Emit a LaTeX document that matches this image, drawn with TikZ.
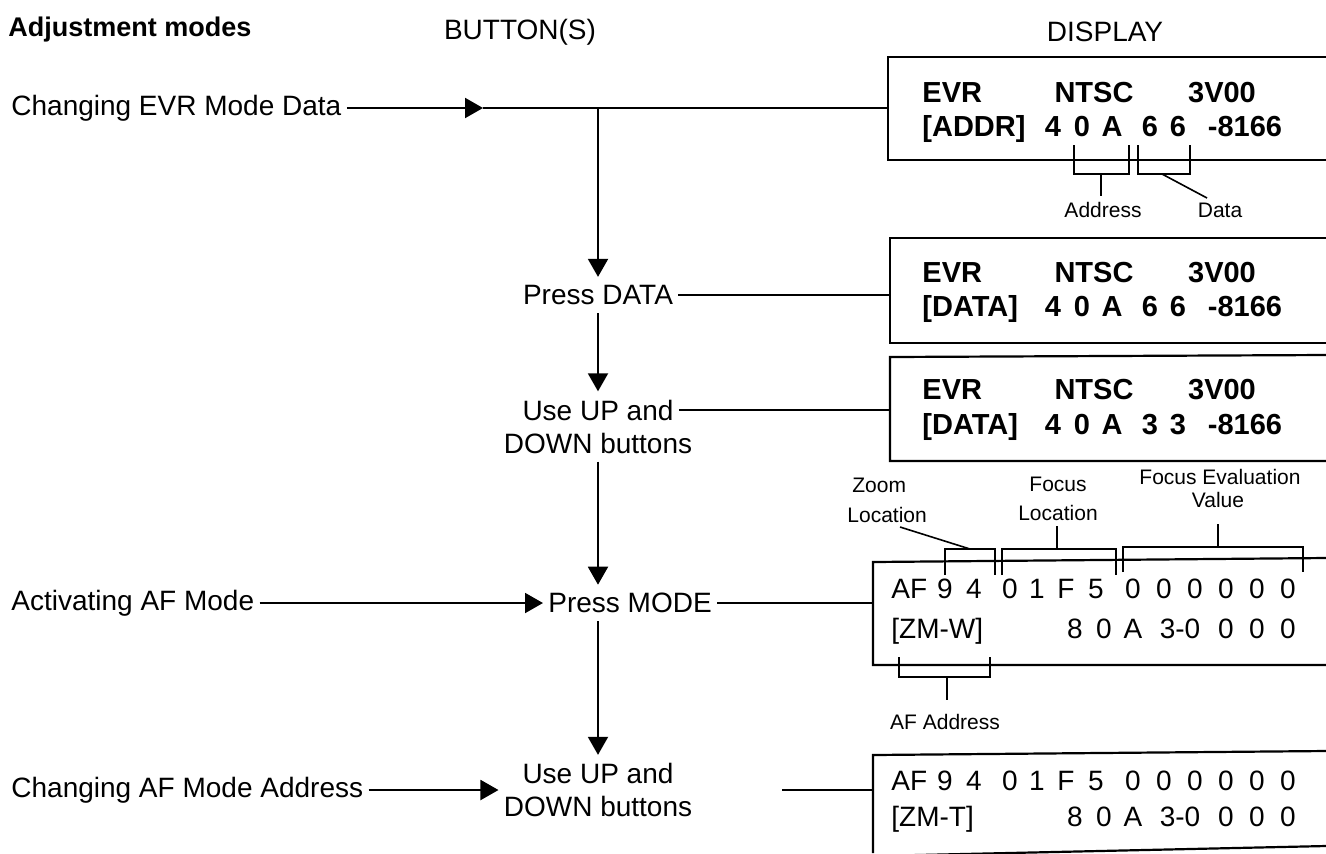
\documentclass[tikz,border=0pt]{standalone}
\usepackage{fontspec}
\setmainfont{Liberation Sans}
\usetikzlibrary{arrows.meta}
\begin{document}
\begin{tikzpicture}[x=0.5pt,y=-0.5pt,
  lbl/.style={font=\fontsize{14}{16}\selectfont, inner xsep=2.5pt, inner ysep=4pt},
  hdr/.style={font=\fontsize{14}{16}\selectfont, inner sep=0pt},
  evr/.style={font=\fontsize{14.5}{16}\selectfont\bfseries, inner sep=0pt, anchor=base},
  af/.style={font=\fontsize{14}{15}\selectfont, inner sep=0pt, anchor=base},
  small/.style={font=\fontsize{10.5}{12.5}\selectfont, inner sep=0pt},
  conn/.style={line width=1pt},
  arr/.style={conn,-{Triangle[length=9pt,width=10pt]}},
  boxline/.style={line width=1.1pt},
  brk/.style={line width=0.8pt}]
\useasboundingbox (0,0) rectangle (1326,853);

% headings
\node[anchor=west, font=\fontsize{13.5}{15}\selectfont\bfseries, inner sep=0pt] (title) at (8,30) {Adjustment modes};
\node[hdr] (hbut) at (520,32) {BUTTON(S)};
\node[hdr] (hdisp) at (1105,32) {DISPLAY};

% ---------- button column ----------
\node[lbl,anchor=west] (m1) at (6,108) {Changing EVR Mode Data};
\coordinate (j0) at (483,108);
\coordinate (j1) at (598,108);
\coordinate (b1) at (888,108);
\draw[arr] (m1.east) -- (j0);
\draw[conn] (j0) -- (b1);

\node[lbl] (pd) at (598,295) {Press DATA};
\draw[arr] (j1) -- (pd.north);
\coordinate (b2) at (890,295);
\draw[conn] (pd.east) -- (b2);

\node[lbl] (u1a) at (598,410) {Use UP and};
\node[lbl] (u1b) at (598,443) {DOWN buttons};
\draw[arr] (pd.south) -- (u1a.north);
\coordinate (b3) at (890,410);
\draw[conn] (u1a.east) -- (b3);

\node[lbl,anchor=west] (pm) at (543,603) {Press MODE};
\draw[arr] (u1b.south) -- (u1b.south |- pm.north);
\node[lbl,anchor=west] (m2) at (6,603) {Activating AF Mode};
\draw[arr] (m2.east) -- (pm.west);
\coordinate (b4) at (873,603);
\draw[conn] (pm.east) -- (b4);

\node[lbl, align=center, font=\fontsize{14}{16.5}\selectfont] (u2) at (598,790) {Use UP and\\DOWN buttons};
\draw[arr] (u1b.south |- pm.south) -- (u2.north);
\node[lbl,anchor=west] (m3) at (6,790) {Changing AF Mode Address};
\draw[arr] (m3.east) -- (u2.west);
\coordinate (b5) at (873,790);
\draw[conn] (b5) -- ([xshift=42pt]u2.east);

% ---------- display boxes ----------
\draw[boxline] (1326,57) -- (888,57) -- (888,160) -- (1326,160);
\draw[boxline] (1326,238) -- (890,238) -- (890,343) -- (1326,343);
\draw[boxline] (1326,355) -- (890,357) -- (890,461) -- (1326,461);
\draw[boxline] (1326,558) -- (873,562) -- (873,665) -- (1326,665);
\draw[boxline] (1326,751) -- (873,755) -- (873,853);
\draw[boxline] (873,856) -- (1326,846);

% box 1
\node[evr,anchor=base west] (e1) at (922,102) {EVR};
\node[evr] (n1) at (1094,102) {NTSC};
\node[evr] (v1) at (1222,102) {3V00};
\node[evr,anchor=base west] (a1) at (922,136) {[ADDR]};
\foreach \x/\t [count=\i] in {1053/4,1082/0,1112/A,1150/6,1178/6}
  \node[evr] (d1\i) at (\x,136) {\t};
\node[evr] (s1) at (1245,136) {-8166};

% box 2
\node[evr,anchor=base west] (e2) at (922,282) {EVR};
\node[evr] (n2) at (1094,282) {NTSC};
\node[evr] (v2) at (1222,282) {3V00};
\node[evr,anchor=base west] (a2) at (922,316) {[DATA]};
\foreach \x/\t [count=\i] in {1053/4,1082/0,1112/A,1150/6,1178/6}
  \node[evr] (d2\i) at (\x,316) {\t};
\node[evr] (s2) at (1245,316) {-8166};

% box 3
\node[evr,anchor=base west] (e3) at (922,399) {EVR};
\node[evr] (n3) at (1094,399) {NTSC};
\node[evr] (v3) at (1222,399) {3V00};
\node[evr,anchor=base west] (a3) at (922,434) {[DATA]};
\foreach \x/\t [count=\i] in {1053/4,1082/0,1112/A,1150/3,1178/3}
  \node[evr] (d3\i) at (\x,434) {\t};
\node[evr] (s3) at (1245,434) {-8166};

% box 4
\node[af,anchor=base west] (f4) at (891,598) {AF};
\foreach \x/\t [count=\i] in {945/9,974/4,1010/0,1037/1,1066/F,1096/5,1133/0,1164/0,1195/0,1226/0,1257/0,1288/0}
  \node[af] (p4\i) at (\x,598) {\t};
\node[af,anchor=base west] (z4) at (891,638) {[ZM-W]};
\foreach \x/\t [count=\i] in {1075/8,1104/0,1133/A,1180/3-0,1226/0,1257/0,1288/0}
  \node[af] (q4\i) at (\x,638) {\t};

% box 5
\node[af,anchor=base west] (f5) at (891,790) {AF};
\foreach \x/\t [count=\i] in {945/9,974/4,1010/0,1037/1,1066/F,1096/5,1133/0,1164/0,1195/0,1226/0,1257/0,1288/0}
  \node[af] (p5\i) at (\x,790) {\t};
\node[af,anchor=base west] (z5) at (891,826) {[ZM-T]};
\foreach \x/\t [count=\i] in {1075/8,1104/0,1133/A,1180/3-0,1226/0,1257/0,1288/0}
  \node[af] (q5\i) at (\x,826) {\t};

% ---------- brackets and labels ----------
\draw[brk] (1074,145) -- (1074,174) -- (1129,174) -- (1129,145);
\draw[brk] (1101,174) -- (1101,196);
\node[small] (ladr) at (1103,210) {Address};
\draw[brk] (1138,145) -- (1138,174) -- (1190,174) -- (1190,145);
\node[small] (ldat) at (1220,210) {Data};
\draw[brk] (1162,174) -- (1207,198);

\draw[brk] (945,575) -- (945,549) -- (995,549) -- (995,575);
\node[small,anchor=west] (lz1) at (852,485) {Zoom};
\node[small,anchor=west] (lz2) at (847,515) {Location};
\draw[brk] (970,549) -- (900,527);

\draw[brk] (1002,575) -- (1002,549) -- (1116,549) -- (1116,575);
\node[small] (lf1) at (1058,484) {Focus};
\node[small] (lf2) at (1058,513) {Location};
\draw[brk] (1057,549) -- (1057,526);

\draw[brk] (1123,572) -- (1123,547) -- (1303,547) -- (1303,572);
\node[small] (le1) at (1220,477) {Focus Evaluation};
\node[small] (le2) at (1218,500) {Value};
\draw[brk] (1218,547) -- (1218,524);

\draw[brk] (899,657) -- (899,677) -- (990,677) -- (990,657);
\draw[brk] (947,677) -- (947,700);
\node[small] (laf) at (945,722) {AF Address};
\end{tikzpicture}
\end{document}
